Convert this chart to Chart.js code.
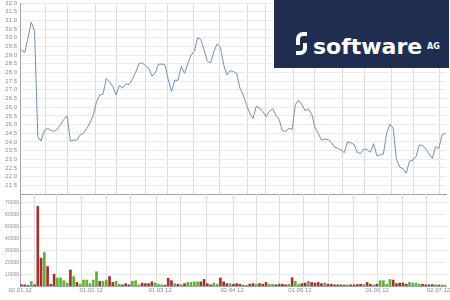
<!DOCTYPE html>
<html>
<head>
<meta charset="utf-8">
<script src="https://cdn.jsdelivr.net/npm/chart.js@4"></script>
<style>
  body { margin: 0; background: #fff; }
  #wrap { position: relative; width: 450px; height: 300px; overflow: hidden; }
  #priceChart { position: absolute; left: 0; top: 0; }
  #volumeChart { position: absolute; left: 0; top: 190px; }
  #logo { position: absolute; left: 274px; top: 0; width: 175px; height: 68px; background: #1f2e50; }
  #logo .word { position: absolute; left: 39px; top: 36px; font: bold 22px "DejaVu Sans"; line-height: 22px; color: #fff; }
  #logo .ag { position: absolute; left: 153px; top: 43px; font: bold 8px "DejaVu Sans"; line-height: 8px; color: #fff; }
  #logo .hookTop { position: absolute; left: 22px; top: 32px; width: 7px; height: 9px; border-top: 4px solid #fff; border-left: 4px solid #fff; border-top-left-radius: 7px; }
  #logo .hookBottom { position: absolute; left: 22px; top: 43px; width: 7px; height: 8px; border-bottom: 4px solid #fff; border-right: 4px solid #fff; border-bottom-right-radius: 7px; }
</style>
</head>
<body>
<div id="wrap">
  <canvas id="priceChart" width="450" height="196"></canvas>
  <canvas id="volumeChart" width="450" height="110"></canvas>
  <div id="logo"><span class="hookTop"></span><span class="hookBottom"></span><span class="word">software</span><span class="ag">AG</span></div>
</div>
<script>
// =========================
// DATA (one value per trading day, 02.01.12 - 02.07.12)
// =========================
const prices = [
  29.3, 29.15, 30.0, 30.9, 30.4, 24.3, 24.05, 24.65, 24.78, 24.68,
  24.6, 24.75, 25.0, 25.3, 25.5, 24.05, 24.1, 24.1, 24.4, 24.5,
  24.78, 25.1, 25.55, 26.3, 26.7, 26.75, 27.65, 27.45, 27.2, 26.7,
  27.25, 27.1, 27.35, 27.3, 27.6, 28.0, 28.5, 28.55, 28.4, 28.25,
  27.8, 27.95, 28.47, 28.48, 28.45, 27.6, 26.9, 27.55, 27.55, 28.35,
  27.95, 28.5, 29.0, 29.2, 30.0, 29.9, 29.3, 28.65, 28.55, 29.2,
  29.65, 29.45, 28.45, 27.85, 28.1, 28.05, 27.95, 27.1, 26.7, 26.15,
  25.65, 25.35, 26.05, 25.95, 25.75, 25.45, 25.75, 25.9, 25.55, 25.3,
  24.65, 24.6, 24.78, 24.72, 26.15, 26.4, 26.15, 25.8, 25.88, 25.6,
  24.85, 24.5, 24.1, 24.16, 24.14, 23.97, 23.7, 23.63, 23.53, 23.38,
  24.0, 23.95, 23.85, 23.4, 23.33, 23.6, 23.55, 23.4, 23.9, 23.2,
  23.25, 23.3, 24.5, 25.03, 24.78, 23.0, 22.55, 22.45, 22.2, 22.9,
  22.95, 23.15, 23.82, 23.8, 23.6, 23.3, 23.05, 23.72, 23.63, 24.4,
  24.5
];

const volumes = [
  1000, 1000, 500, 3800, 1000, 67000, 23500, 28200, 16400, 1500,
  10000, 6800, 6800, 4500, 2500, 13500, 8000, 3000, 1500, 5000,
  5000, 2000, 5000, 12000, 4000, 4000, 5000, 8000, 3000, 4000,
  1500, 1000, 2000, 1000, 4000, 4500, 1000, 2500, 2000, 2000,
  3500, 2500, 1500, 1000, 800, 6500, 4500, 2000, 1500, 1000,
  2000, 3000, 3000, 3500, 3500, 3500, 5500, 2000, 1000, 2500,
  1500, 6800, 3500, 2000, 2000, 1500, 2000, 1500, 500, 300,
  1500, 2000, 1500, 2000, 1500, 3000, 1500, 1500, 1000, 1500,
  1500, 1000, 1500, 7000, 4000, 1500, 2000, 2500, 4000, 3000,
  2500, 3000, 2000, 2500, 1500, 1500, 1000, 1000, 1000, 800,
  1000, 1000, 1000, 1200, 1500, 1200, 3000, 1500, 1000, 1500,
  4500, 4500, 1500, 5500, 5000, 2000, 2500, 2500, 1500, 3000,
  2500, 2500, 1500, 1500, 1000, 1000, 1200, 1000, 800, 1000,
  800
];

// bar colour per day as seen in the picture: u = green, d = red
const barDirection = [
  "dddudddudd", "duuuududuu", "uuuuduuddu", "uddduuuddd", "duuudddudu",
  "duuuuddddu", "uddduddddd", "dduddduudd", "dduduuddud", "dddudddddd",
  "udddduddud", "uuuudddddu", "uuuddddudu", "u"
].join("").split("");

// volume axis tick values
const volumeTicks = [10000, 20000, 30000, 40000, 50000, 60000, 70000];

// x positions (trading-day index) of the vertical grid lines
const gridDays = [7.42, 14.26, 22.55, 29.29, 37.88, 44.63, 52.61, 60.58, 69.17,
  74.69, 83.28, 89.72, 98.31, 105.06, 113.34, 120.09, 128.07];

// date labels under the volume chart
const dateLabels = ["02.01.12", "01.02.12", "01.03.12", "02.04.12", "01.05.12", "01.06.12", "02.07.12"];
const labelDays = [-0.4, 21.4, 42.5, 64.6, 85.4, 109.1, 127.9];

const X_MIN = -0.46;
const X_MAX = 130.2;

const GRID = '#dddddd';
const AXIS = '#a3a3a3';
const TICK_FONT = { family: 'Liberation Sans', size: 6 };
const UP = '#5db430';
const DOWN = '#a3302c';

const barColors = barDirection.map(d => d === 'u' ? UP : DOWN);


// =========================
// PRICE CHART
// =========================
new Chart(document.getElementById('priceChart'), {
  type: 'line',
  data: {
    datasets: [{
      data: prices.map((p, i) => ({ x: i, y: p })),
      borderColor: '#7090b8',
      borderWidth: 1,
      pointRadius: 0,
      tension: 0
    }]
  },
  options: {
    responsive: false,
    animation: false,
    events: [],
    layout: { padding: { top: 3, right: 4, bottom: 2, left: 0 } },
    plugins: { legend: { display: false }, tooltip: { enabled: false } },
    scales: {
      x: {
        type: 'linear',
        min: X_MIN,
        max: X_MAX,
        afterBuildTicks: (axis) => { axis.ticks = gridDays.map(v => ({ value: v })); },
        ticks: { display: false },
        grid: { color: GRID, drawTicks: false },
        border: { color: AXIS }
      },
      y: {
        min: 21,
        max: 32,
        afterFit: (axis) => { axis.width = 20; axis.paddingTop = 0; axis.paddingBottom = 0; },
        ticks: {
          stepSize: 0.5,
          autoSkip: false,
          padding: 3,
          color: '#8c8c8c',
          font: TICK_FONT,
          callback: (v) => v === 21 ? '' : v.toFixed(1)
        },
        grid: { color: '#ebebeb', drawTicks: false },
        border: { color: AXIS }
      }
    }
  }
});


// =========================
// VOLUME CHART
// =========================
new Chart(document.getElementById('volumeChart'), {
  type: 'bar',
  data: {
    datasets: [{
      data: volumes.map((v, i) => ({ x: i, y: v })),
      backgroundColor: barColors,
      barThickness: 2
    }]
  },
  options: {
    responsive: false,
    animation: false,
    events: [],
    layout: { padding: { top: 4, right: 4, bottom: 0, left: 0 } },
    plugins: { legend: { display: false }, tooltip: { enabled: false } },
    scales: {
      x: {
        type: 'linear',
        offset: false,
        min: X_MIN,
        max: X_MAX,
        afterBuildTicks: (axis) => {
          axis.ticks = gridDays.concat(labelDays).map(v => ({ value: v }));
        },
        afterFit: (axis) => { axis.height = 14; axis.paddingLeft = 0; axis.paddingRight = 0; },
        ticks: {
          autoSkip: false,
          maxRotation: 0,
          padding: 1,
          color: '#8c8c8c',
          font: TICK_FONT,
          callback: (v) => {
            const k = labelDays.indexOf(v);
            return k >= 0 ? dateLabels[k] : '';
          }
        },
        grid: {
          color: (ctx) => (ctx.tick && labelDays.includes(ctx.tick.value)) ? 'rgba(0,0,0,0)' : GRID,
          drawTicks: false
        },
        border: { color: AXIS }
      },
      y: {
        min: 0,
        max: 77500,
        afterBuildTicks: (axis) => { axis.ticks = volumeTicks.map(v => ({ value: v })); },
        afterFit: (axis) => { axis.width = 20; axis.paddingTop = 0; axis.paddingBottom = 0; },
        ticks: {
          autoSkip: false,
          padding: 1,
          color: '#8c8c8c',
          font: { family: 'Liberation Sans Narrow, Liberation Sans', size: 5 },
          callback: (v) => v
        },
        grid: { color: '#ebebeb', drawTicks: false },
        border: { color: AXIS }
      }
    }
  }
});
</script>
</body>
</html>
